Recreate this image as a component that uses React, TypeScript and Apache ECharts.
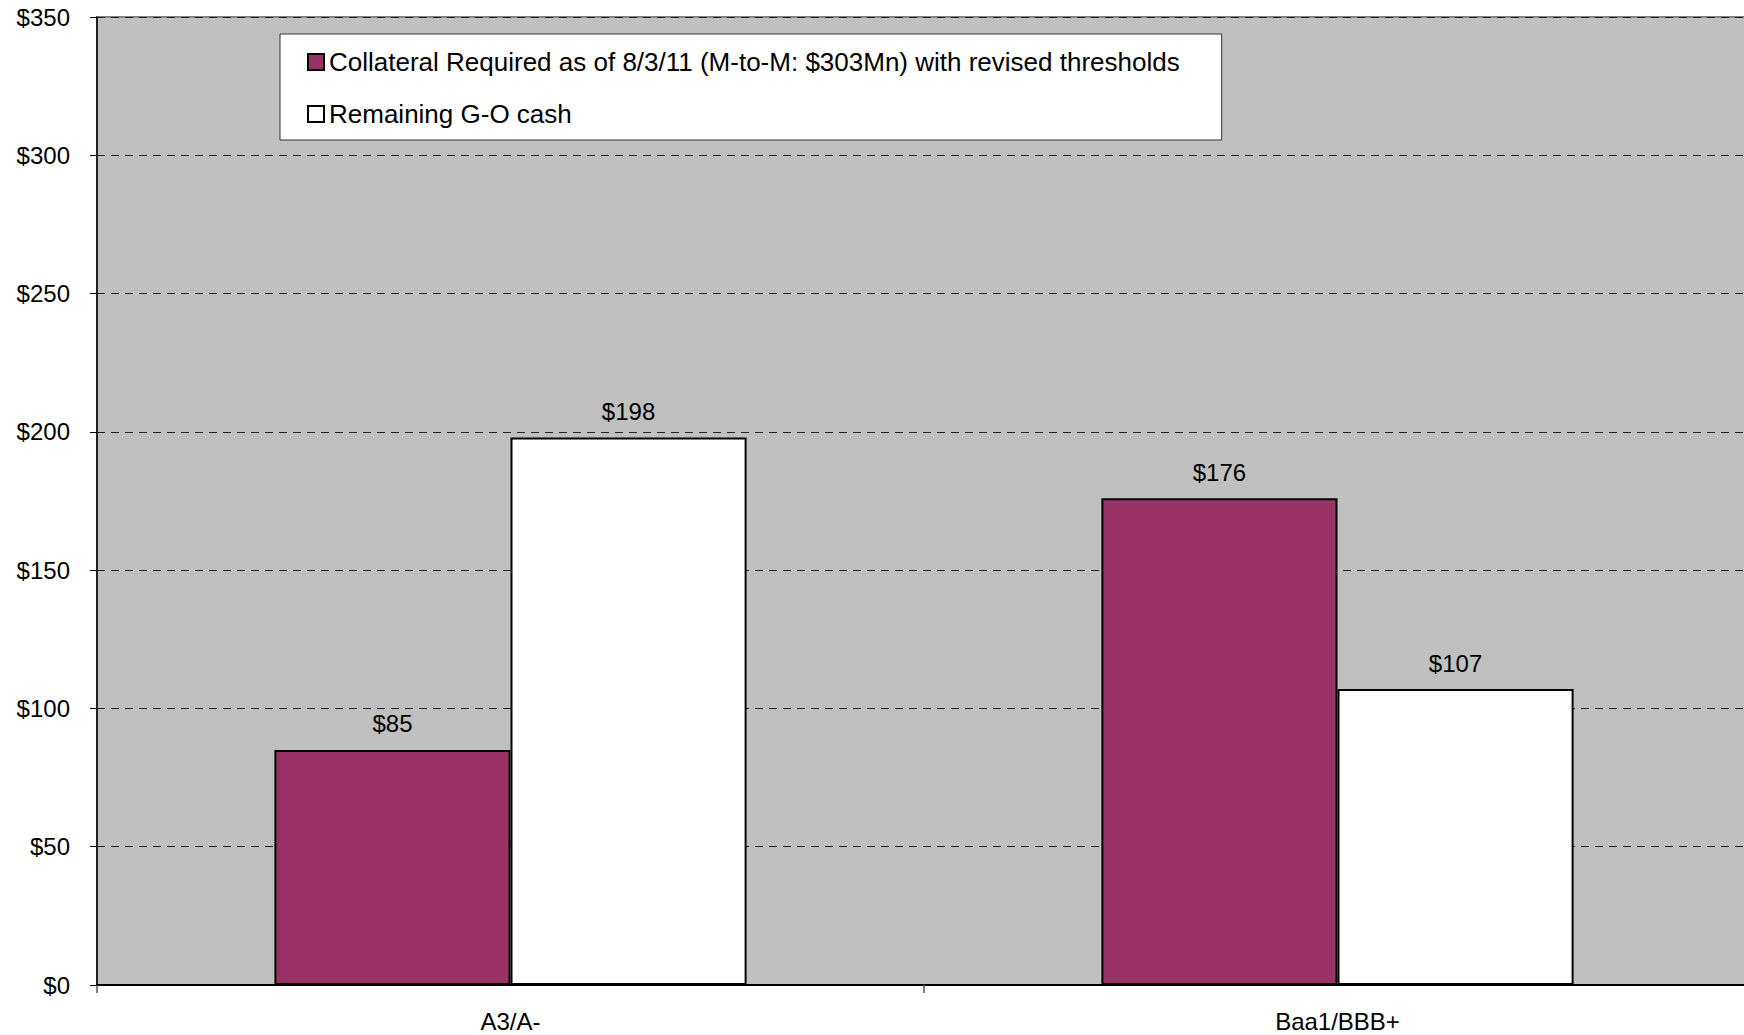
import React, { useEffect, useRef } from "react";
import * as echarts from "echarts";

const categories = ["A3/A-", "Baa1/BBB+"];
const collateralName = "Collateral Required as of 8/3/11 (M-to-M: $303Mn) with revised thresholds";
const remainingName = "Remaining G-O cash";
const collateralValues = [85, 176];
const remainingValues = [198, 107];
const yMin = 0;
const yMax = 350;
const yInterval = 50;

const FONT = "'Liberation Sans', Arial, sans-serif";

export default function App() {
  const ref = useRef<HTMLDivElement>(null);
  useEffect(() => {
    if (!ref.current) return;
    const chart = echarts.init(ref.current, undefined, { renderer: "svg" });
    const labelCfg = {
      show: true,
      position: "top",
      distance: 14,
      color: "#000",
      fontSize: 24,
      fontFamily: FONT,
      formatter: (p: any) => "$" + p.value,
    };
    chart.setOption({
      animation: false,
      backgroundColor: "#fff",
      textStyle: { fontFamily: FONT },
      grid: {
        left: 97,
        top: 17,
        width: 1654,
        bottom: 50,
        outerBoundsMode: "none",
        containLabel: false,
        show: true,
        backgroundColor: "#C0C0C0",
        borderColor: "#808080",
        borderWidth: 2,
      },
      legend: {
        orient: "vertical",
        left: 280,
        top: 34,
        padding: [15, 42, 13, 27],
        itemGap: 26,
        itemWidth: 16,
        itemHeight: 16,
        backgroundColor: "#fff",
        borderColor: "#333",
        borderWidth: 1,
        icon: "rect",
        textStyle: { fontSize: 26, color: "#000", fontFamily: FONT, lineHeight: 25 },
        data: [collateralName, remainingName],
      },
      xAxis: {
        type: "category",
        data: categories,
        boundaryGap: true,
        axisLine: { lineStyle: { color: "#000", width: 2 } },
        axisTick: { show: true, length: 8, lineStyle: { color: "#555", width: 1.5 } },
        axisLabel: { fontSize: 24, color: "#000", fontFamily: FONT, margin: 24 },
      },
      yAxis: {
        type: "value",
        min: yMin,
        max: yMax,
        interval: yInterval,
        axisLine: { show: true, lineStyle: { color: "#000", width: 1.5 } },
        axisTick: { show: true, length: 7, lineStyle: { color: "#000", width: 1 } },
        axisLabel: {
          fontSize: 24,
          color: "#000",
          fontFamily: FONT,
          margin: 27,
          formatter: (v: number) => "$" + v,
        },
        splitLine: {
          show: true,
          lineStyle: { color: "#222", width: 1, type: [8, 6] },
        },
      },
      series: [
        {
          name: collateralName,
          type: "bar",
          data: collateralValues,
          barGap: "0%",
          barCategoryGap: "42.9%",
          itemStyle: { color: "#993366", borderColor: "#000", borderWidth: 2 },
          label: labelCfg,
        },
        {
          name: remainingName,
          type: "bar",
          data: remainingValues,
          barGap: "0%",
          barCategoryGap: "42.9%",
          itemStyle: { color: "#FFFFFF", borderColor: "#000", borderWidth: 2 },
          label: labelCfg,
        },
      ],
    });
    return () => chart.dispose();
  }, []);
  return <div ref={ref} style={{ width: 1744, height: 1035, position: "absolute", left: 0, top: 0 }} />;
}
